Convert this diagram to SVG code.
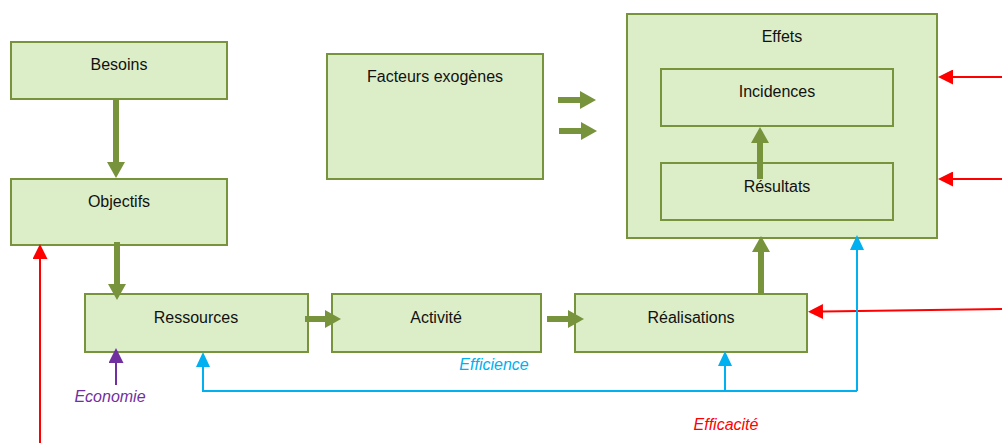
<svg xmlns="http://www.w3.org/2000/svg" width="1002" height="443" viewBox="0 0 1002 443">
  <style>
    .box { fill: #dceec8; stroke: #77933c; stroke-width: 2; }
    .lbl { font-family: "Liberation Sans", Arial, sans-serif; font-size: 16px; fill: #111; text-anchor: middle; }
    .note { font-family: "Liberation Sans", Arial, sans-serif; font-size: 16px; font-style: italic; text-anchor: middle; }
    .flow { fill: none; stroke: #77933c; stroke-width: 6; }
    .red { fill: none; stroke: #ff0000; stroke-width: 2; }
    .blue { fill: none; stroke: #00b0f0; stroke-width: 2; }
    .purple { fill: none; stroke: #7030a0; stroke-width: 2; }
  </style>
  <defs>
    <marker id="headGreen" markerUnits="userSpaceOnUse" viewBox="0 0 16 18" refX="0" refY="9" markerWidth="16" markerHeight="18" orient="auto">
      <path d="M0,0 L16,9 L0,18 z" fill="#77933c"/>
    </marker>
    <marker id="headRed" markerUnits="userSpaceOnUse" viewBox="0 0 15 15" refX="0" refY="7.5" markerWidth="15" markerHeight="15" orient="auto">
      <path d="M0,0 L15,7.5 L0,15 z" fill="#ff0000"/>
    </marker>
    <marker id="headBlue" markerUnits="userSpaceOnUse" viewBox="0 0 15 15" refX="0" refY="7.5" markerWidth="15" markerHeight="15" orient="auto">
      <path d="M0,0.5 L15,7.5 L0,14.5 z" fill="#00b0f0"/>
    </marker>
    <marker id="headPurple" markerUnits="userSpaceOnUse" viewBox="0 0 15 15" refX="0" refY="7.5" markerWidth="15" markerHeight="15" orient="auto">
      <path d="M0,0 L15,7.5 L0,15 z" fill="#7030a0"/>
    </marker>
  </defs>

  <g id="besoins">
    <rect class="box" x="11" y="42" width="216" height="57"/>
    <text class="lbl" x="119" y="70">Besoins</text>
  </g>
  <g id="objectifs">
    <rect class="box" x="11" y="179" width="216" height="66"/>
    <text class="lbl" x="119" y="207">Objectifs</text>
  </g>
  <g id="facteurs">
    <rect class="box" x="327" y="54" width="216" height="125"/>
    <text class="lbl" x="435" y="82">Facteurs exogènes</text>
  </g>
  <g id="effets">
    <rect class="box" x="627" y="14" width="310" height="224"/>
    <text class="lbl" x="782" y="42">Effets</text>
  </g>
  <g id="incidences">
    <rect class="box" x="661" y="69" width="232" height="57"/>
    <text class="lbl" x="777" y="97">Incidences</text>
  </g>
  <g id="resultats">
    <rect class="box" x="661" y="163" width="232" height="57"/>
    <text class="lbl" x="777" y="192">Résultats</text>
  </g>
  <g id="ressources">
    <rect class="box" x="85" y="294" width="223" height="58"/>
    <text class="lbl" x="196" y="323">Ressources</text>
  </g>
  <g id="activite">
    <rect class="box" x="332" y="294" width="209" height="58"/>
    <text class="lbl" x="436" y="323">Activité</text>
  </g>
  <g id="realisations">
    <rect class="box" x="575" y="294" width="232" height="58"/>
    <text class="lbl" x="691" y="323">Réalisations</text>
  </g>

  <g id="connectors">
    <!-- main chain -->
    <path class="flow" d="M116,99 V162" marker-end="url(#headGreen)"/>
    <path class="flow" d="M117,242 V284" marker-end="url(#headGreen)"/>
    <path class="flow" d="M305,319 H325" marker-end="url(#headGreen)"/>
    <path class="flow" d="M547,319 H568" marker-end="url(#headGreen)"/>
    <path class="flow" d="M761,294 V252" marker-end="url(#headGreen)"/>
    <path class="flow" d="M760,179 V143" marker-end="url(#headGreen)"/>
    <!-- exogenous influence -->
    <path class="flow" d="M558,100 H580" marker-end="url(#headGreen)"/>
    <path class="flow" d="M559,131 H581" marker-end="url(#headGreen)"/>

    <!-- efficacité -->
    <path class="red" d="M1002,77 H953" marker-end="url(#headRed)"/>
    <path class="red" d="M1002,179 H953" marker-end="url(#headRed)"/>
    <path class="red" d="M1002,309 L823,311.5" marker-end="url(#headRed)"/>
    <path class="red" d="M40,443 V259" marker-end="url(#headRed)"/>

    <!-- efficience -->
    <path class="blue" d="M857,391 V250" marker-end="url(#headBlue)"/>
    <path class="blue" d="M857,391 H203 V367" marker-end="url(#headBlue)"/>
    <path class="blue" d="M725,391 V366" marker-end="url(#headBlue)"/>

    <!-- economie -->
    <path class="purple" d="M116,385 V363" marker-end="url(#headPurple)"/>
  </g>

  <text class="note" x="494" y="370" fill="#00b0f0">Efficience</text>
  <text class="note" x="110" y="402" fill="#7030a0">Economie</text>
  <text class="note" x="726" y="430" fill="#ff0000">Efficacité</text>
</svg>
